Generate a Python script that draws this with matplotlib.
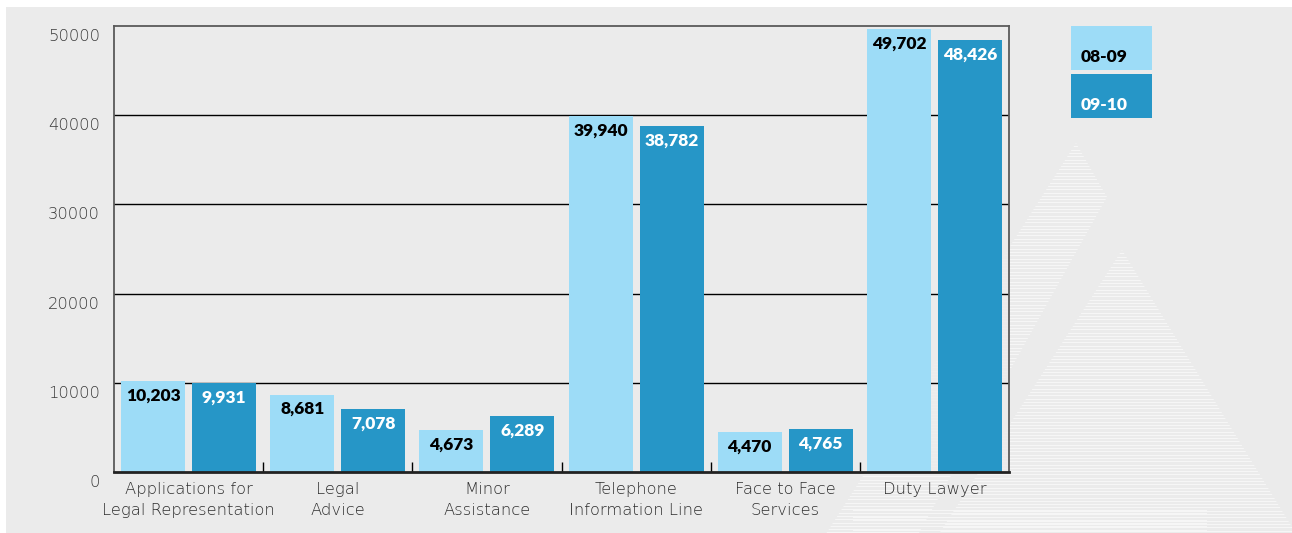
import numpy as np
import matplotlib.pyplot as plt
from matplotlib.patches import Polygon, Rectangle
from matplotlib.transforms import ScaledTranslation

categories = ["Applications for\nLegal Representation", "Legal\nAdvice", "Minor\nAssistance",
              "Telephone\nInformation Line", "Face to Face\nServices", "Duty Lawyer"]
series = ["08-09", "09-10"]
values_0809 = [10203, 8681, 4673, 39940, 4470, 49702]
values_0910 = [9931, 7078, 6289, 38782, 4765, 48426]
y_ticks = [0, 10000, 20000, 30000, 40000, 50000]

light = "#9ddcf7"
dark = "#2696c7"
panel = "#ebebeb"
stripe = "#f7f7f7"

thin = ['DejaVu Sans']
heavy = ['Lato', 'DejaVu Sans']
plt.rcParams['font.family'] = thin

W, H = 1292, 533
fig = plt.figure(figsize=(W / 100, H / 100), dpi=100)
fig.patch.set_facecolor("white")

# background panel + striped watermark, drawn in pixel coords
bg = fig.add_axes([0, 0, 1, 1], zorder=0)
bg.set_xlim(0, W)
bg.set_ylim(H, 0)
bg.axis("off")
bg.add_patch(Rectangle((6, 7), W - 6, H - 7, facecolor=panel, edgecolor="none"))

def striped(poly, y0, y1):
    clip = Polygon(poly, closed=True, facecolor="none", edgecolor="none")
    bg.add_patch(clip)
    ys = np.arange(y0, y1, 3.3)
    lines = bg.hlines(ys, 700, W, colors=stripe, linewidth=0.7)
    lines.set_clip_path(clip)

# thin left leg
striped([(1076, 143), (1107, 197), (915, 540), (822, 540)], 143, 533)
# big "A"
striped([(1122, 250), (1300, 540), (935, 540)], 250, 533)
# bottom band
striped([(853, 510), (1207, 510), (1207, 540), (853, 540)], 510, 533)
# hole of the "A"
bg.add_patch(Polygon([(1120, 343), (1222, 510), (1036, 510)], closed=True,
                     facecolor=panel, edgecolor="none"))

# main chart
ax = fig.add_axes([114 / W, 1 - 472 / H, (1009 - 114) / W, (472 - 26) / H], zorder=1)
ax.set_facecolor(panel)
ax.patch.set_alpha(0.75)

x = np.arange(len(categories))
off = 0.238
bw = 0.429
b1 = ax.bar(x - off, values_0809, bw, color=light, zorder=2)
b2 = ax.bar(x + off, values_0910, bw, color=dark, zorder=2)

for bars, vals, col in [(b1, values_0809, "black"), (b2, values_0910, "white")]:
    for rect, v in zip(bars, vals):
        ax.annotate(f"{v:,}", (rect.get_x() + rect.get_width() / 2, v),
                    xytext=(0, -10.5), textcoords="offset points",
                    ha="center", va="center", fontsize=12.5, fontweight="heavy",
                    family=heavy, color=col, zorder=3)

ax.set_xlim(-0.5, len(categories) - 0.5)
ax.set_ylim(0, 50000)
ax.set_yticks(y_ticks)
ax.set_yticklabels([str(t) for t in y_ticks])
for t in y_ticks[1:-1]:
    ax.axhline(t, color="black", linewidth=1.0, zorder=1)

ax.set_xticks(x)
ax.set_xticklabels(categories, fontsize=11.8, color="#2e2e2e", linespacing=1.45,
                   fontweight="light")
ax.set_xticks(np.arange(0.5, len(categories) - 0.5), minor=True)
ax.tick_params(axis="x", which="major", length=0, pad=7.5)
ax.tick_params(axis="x", which="minor", direction="in", length=7.5, width=1, color="black")
ax.tick_params(axis="y", length=0, pad=10, labelsize=11.8, labelcolor="#3a3a3a")
for lab in ax.get_yticklabels():
    lab.set_fontweight("light")
shift = ScaledTranslation(0, -9 / 100, fig.dpi_scale_trans)
for lab in ax.get_yticklabels():
    lab.set_transform(lab.get_transform() + shift)

for side in ["left", "top", "right"]:
    ax.spines[side].set_color("#5a5a5a")
    ax.spines[side].set_linewidth(1.3)
ax.spines["bottom"].set_color("#222222")
ax.spines["bottom"].set_linewidth(2)

# legend boxes with the season labels inside
for i, (name, col, tcol) in enumerate(zip(series, [light, dark], ["black", "white"])):
    top = 26 + i * 48
    fig.patches.append(Rectangle((1071 / W, 1 - (top + 44) / H), 81 / W, 44 / H,
                                 transform=fig.transFigure, facecolor=col,
                                 edgecolor="none", zorder=2))
    fig.text(1081 / W, 1 - (top + 31) / H, name, fontsize=12.5, fontweight="heavy",
             family=heavy, color=tcol, ha="left", va="center", zorder=3)

fig.savefig("out.png", dpi=100)
